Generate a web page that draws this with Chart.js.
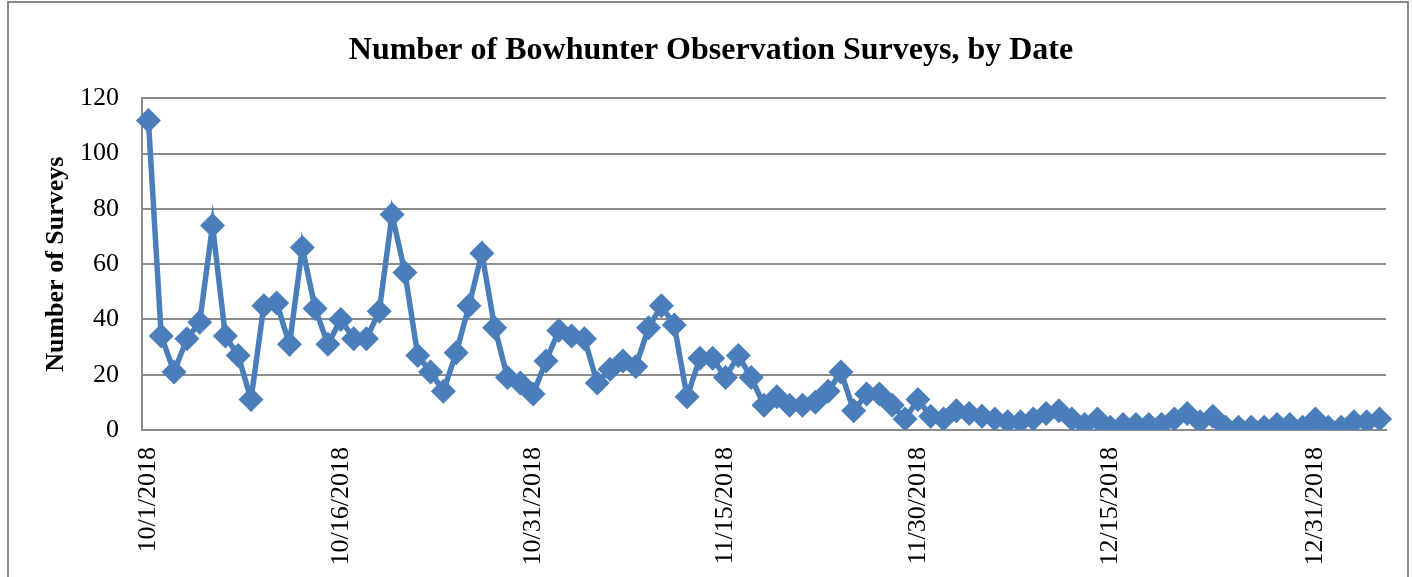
<!DOCTYPE html>
<html>
<head>
<meta charset="utf-8">
<script src="https://cdn.jsdelivr.net/npm/chart.js@4/dist/chart.umd.min.js"></script>
<style>
  html, body { margin: 0; padding: 0; background: #ffffff; overflow: hidden; }
  #frame {
    position: absolute; left: 7px; top: 1px; width: 1402px; height: 700px;
    border: 2px solid #8a8a8a; box-sizing: border-box;
  }
  #wrap { position: absolute; left: 0; top: 0; width: 1412px; height: 577px; }
</style>
</head>
<body>
<div id="frame"></div>
<div id="wrap"><canvas id="chart" width="1412" height="577"></canvas></div>
<script>
// Daily survey counts, split by month
const octoberCounts  = [112, 34, 21, 33, 39, 74, 34, 27, 11, 45, 46, 31, 66, 44, 31, 40,
                        33, 33, 43, 78, 57, 27, 21, 14, 28, 45, 64, 37, 19, 17, 13];
const novemberCounts = [25, 36, 34, 33, 17, 22, 25, 23, 37, 45, 38, 12, 26, 26, 19, 27,
                        19, 9, 12, 9, 9, 10, 14, 21, 7, 13, 13, 9, 4, 11];
const decemberCounts = [5, 4, 7, 6, 5, 4, 3, 3, 4, 6, 7, 4, 2, 4, 1, 2, 2, 2, 2, 4, 6,
                        3, 5, 1, 1, 1, 1, 2, 2, 1, 4];
const januaryCounts  = [1, 1, 3, 3, 4];

// Dates shown along the horizontal axis
const tickLabels = ['10/1/2018', '10/16/2018', '10/31/2018', '11/15/2018',
                    '11/30/2018', '12/15/2018', '12/31/2018'];

const yTicks = [0, 20, 40, 60, 80, 100, 120];

const surveyCounts = [...octoberCounts, ...novemberCounts, ...decemberCounts, ...januaryCounts];

// One category per day starting 10/1/2018
const categories = [];
for (let i = 0; i < surveyCounts.length; i++) {
  const d = new Date(2018, 9, 1 + i);
  categories.push((d.getMonth() + 1) + '/' + d.getDate() + '/' + d.getFullYear());
}

const blue = '#4a7ebb';
const gridGray = '#8c8c8c';
const serif = '"Liberation Serif", "Times New Roman", serif';

new Chart(document.getElementById('chart'), {
  type: 'line',
  data: {
    labels: categories,
    datasets: [{
      data: surveyCounts,
      borderColor: blue,
      backgroundColor: blue,
      borderWidth: 5.5,
      tension: 0,
      pointStyle: 'rectRot',
      pointRadius: 12.5,
      pointBorderWidth: 0,
      pointBackgroundColor: blue,
      pointBorderColor: blue
    }]
  },
  options: {
    responsive: false,
    animation: false,
    events: [],
    layout: { padding: { left: 36, right: 26, top: 0, bottom: 0 } },
    plugins: {
      legend: { display: false },
      tooltip: { enabled: false },
      title: {
        display: true,
        text: 'Number of Bowhunter Observation Surveys, by Date',
        color: '#000000',
        font: { family: serif, size: 32, weight: 'bold' },
        padding: { top: 32, bottom: 28 }
      }
    },
    scales: {
      x: {
        type: 'category',
        offset: true,
        grid: { display: false, drawTicks: false },
        border: { display: true, color: gridGray, width: 2 },
        ticks: {
          autoSkip: false,
          minRotation: 90,
          maxRotation: 90,
          padding: 17,
          color: '#000000',
          font: { family: serif, size: 26 },
          callback: function (value, index) {
            const lbl = categories[index];
            return tickLabels.includes(lbl) ? lbl : '';
          }
        },
        afterFit: function (scale) {
          scale.height = 147;
          scale.paddingLeft = 0;
          scale.paddingRight = 0;
        }
      },
      y: {
        min: 0,
        max: 120,
        grid: { color: gridGray, lineWidth: 2, drawTicks: false },
        border: { display: true, color: gridGray, width: 2 },
        afterBuildTicks: function (scale) { scale.ticks = yTicks.map(v => ({ value: v })); },
        ticks: {
          padding: 23,
          color: '#000000',
          font: { family: serif, size: 26 }
        },
        title: {
          display: true,
          text: 'Number of Surveys',
          color: '#000000',
          font: { family: serif, size: 26, weight: 'bold' },
          padding: { top: 5, bottom: 0 }
        },
        afterFit: function (scale) { scale.width = 106; }
      }
    }
  }
});
</script>
</body>
</html>
